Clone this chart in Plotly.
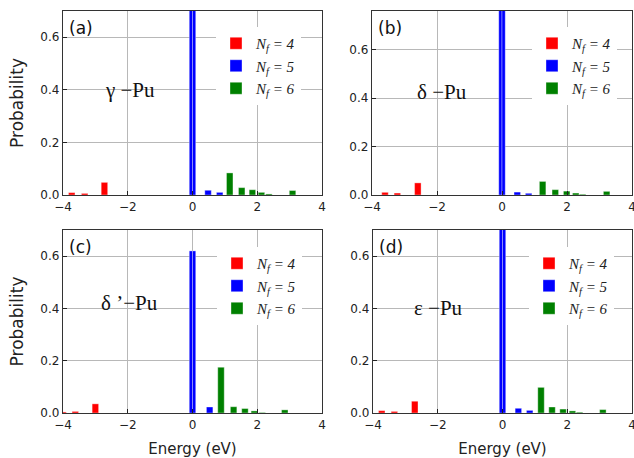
import plotly.graph_objects as go

# ---------------- data (energies in eV, probabilities) ----------------
panels = ["a", "b", "c", "d"]
phase_labels = ["γ −Pu", "δ −Pu", "δ ’−Pu", "ε −Pu"]

# N_f = 4
e4_a = [-3.73, -3.33, -2.72]
p4_a = [0.009, 0.006, 0.048]
e4_b = [-3.60, -3.22, -2.59]
p4_b = [0.011, 0.008, 0.050]
e4_c = [-4.00, -3.62, -3.00]
p4_c = [0.004, 0.006, 0.035]
e4_d = [-3.73, -3.34, -2.71]
p4_d = [0.009, 0.006, 0.045]

# N_f = 5
e5_a = [-0.05, 0.05, 0.48, 0.84]
p5_a = [0.78, 0.78, 0.018, 0.010]
e5_b = [-0.05, 0.05, 0.47, 0.82]
p5_b = [0.80, 0.80, 0.012, 0.007]
e5_c = [-0.05, 0.05, 0.53]
p5_c = [0.62, 0.62, 0.023]
e5_d = [-0.05, 0.05, 0.49, 0.84]
p5_d = [0.78, 0.78, 0.018, 0.010]

# N_f = 6
e6_a = [1.15, 1.52, 1.85, 2.13, 2.36, 3.09]
p6_a = [0.084, 0.028, 0.020, 0.010, 0.004, 0.017]
e6_b = [1.25, 1.64, 1.99, 2.27, 2.48, 3.22]
p6_b = [0.056, 0.022, 0.016, 0.008, 0.003, 0.015]
e6_c = [0.88, 1.27, 1.62, 1.91, 2.15, 2.85]
p6_c = [0.175, 0.024, 0.017, 0.008, 0.002, 0.012]
e6_d = [1.19, 1.53, 1.87, 2.16, 2.38, 3.10]
p6_d = [0.098, 0.023, 0.015, 0.008, 0.003, 0.013]

x_ticks = [-4, -2, 0, 2, 4]
y_ticks = [0.0, 0.2, 0.4, 0.6]
y_max = [0.70, 0.76, 0.70, 0.70]

series_names = ["<i>N</i><sub><i>f</i></sub><i> = 4</i>",
                "<i>N</i><sub><i>f</i></sub><i> = 5</i>",
                "<i>N</i><sub><i>f</i></sub><i> = 6</i>"]
colors = ["#ff0000", "#0000ff", "#008000"]

data = {
    "a": [(e4_a, p4_a), (e5_a, p5_a), (e6_a, p6_a)],
    "b": [(e4_b, p4_b), (e5_b, p5_b), (e6_b, p6_b)],
    "c": [(e4_c, p4_c), (e5_c, p5_c), (e6_c, p6_c)],
    "d": [(e4_d, p4_d), (e5_d, p5_d), (e6_d, p6_d)],
}

# ---------------- layout geometry ----------------
W, H = 634, 458
px_x = {"a": (63, 322), "b": (372, 632), "c": (63, 322), "d": (373, 632)}
px_y = {"a": (11, 195), "b": (11, 195), "c": (230, 413), "d": (230, 413)}
legend_pos = {"a": (216, 27), "b": (532, 27), "c": (217, 247), "d": (529, 247)}
label_pos = {"a": (-1.93, 0.40), "b": (-1.86, 0.424), "c": (-1.95, 0.42), "d": (-1.99, 0.40)}

fig = go.Figure()
layout = dict(
    width=W, height=H, margin=dict(l=0, r=0, t=0, b=0, autoexpand=False),
    paper_bgcolor="white", plot_bgcolor="white",
    barmode="overlay", annotations=[],
    font=dict(family="DejaVu Sans", color="#222"),
)

for i, pn in enumerate(panels):
    k = "" if i == 0 else str(i + 1)
    xa, ya = "x" + k, "y" + k
    leg = "legend" + k
    for j, (e, p) in enumerate(data[pn]):
        widths = [0.1 if abs(v) < 0.1 else 0.2 for v in e]
        fig.add_trace(go.Bar(
            x=e, y=p, width=widths, name=series_names[j],
            marker=dict(color=colors[j], line=dict(color="rgba(255,255,255,0.45)", width=0.8)),
            xaxis=xa, yaxis=ya, legend=leg, showlegend=True,
        ))
    x0, x1 = px_x[pn]
    y0, y1 = px_y[pn]
    bottom = pn in ("c", "d")
    left = pn in ("a", "c")
    layout["xaxis" + k] = dict(
        domain=[x0 / W, x1 / W], anchor=ya, range=[-4, 4], automargin=False,
        tickvals=x_ticks, ticks="inside", ticklen=4, tickcolor="#222",
        ticklabeloverflow="allow",
        showline=True, mirror=True, linecolor="#333", linewidth=1.3,
        showgrid=True, gridcolor="#b8b8b8", gridwidth=1, zeroline=False,
        tickfont=dict(family="DejaVu Sans", size=12, color="#222"),
        title=dict(text="Energy (eV)", font=dict(family="DejaVu Sans", size=15, color="#222"), standoff=12) if bottom else None,
    )
    layout["yaxis" + k] = dict(
        domain=[1 - y1 / H, 1 - y0 / H], anchor=xa, range=[0, y_max[i]], automargin=False,
        tickvals=y_ticks, tickformat=".1f", ticks="inside", ticklen=4, tickcolor="#222",
        showline=True, mirror=True, linecolor="#333", linewidth=1.3,
        showgrid=True, gridcolor="#b8b8b8", gridwidth=1, zeroline=False,
        tickfont=dict(family="DejaVu Sans", size=12, color="#222"),
        title=dict(text="Probability", font=dict(family="DejaVu Sans", size=17, color="#222"), standoff=12) if left else None,
    )
    lx, ly = legend_pos[pn]
    layout[leg] = dict(
        x=lx / W, y=1 - ly / H, xanchor="left", yanchor="top",
        bgcolor="white", borderwidth=0, itemwidth=30, tracegroupgap=0,
        font=dict(family="Liberation Serif", size=15, color="#222"),
    )
    layout["annotations"].append(dict(
        x=label_pos[pn][0], y=label_pos[pn][1], xref=xa, yref=ya,
        text=phase_labels[i], showarrow=False,
        font=dict(family="Liberation Serif", size=21, color="#111"),
    ))
    layout["annotations"].append(dict(
        x=0.015, y=0.975, xref=xa + " domain", yref=ya + " domain",
        xanchor="left", yanchor="top",
        text="(" + pn + ")", showarrow=False,
        font=dict(family="DejaVu Sans", size=17, color="#111"),
    ))

fig.update_layout(**layout)
fig.write_html("out.html", config={"displayModeBar": False},
               post_script="document.body.style.margin='0px';")
